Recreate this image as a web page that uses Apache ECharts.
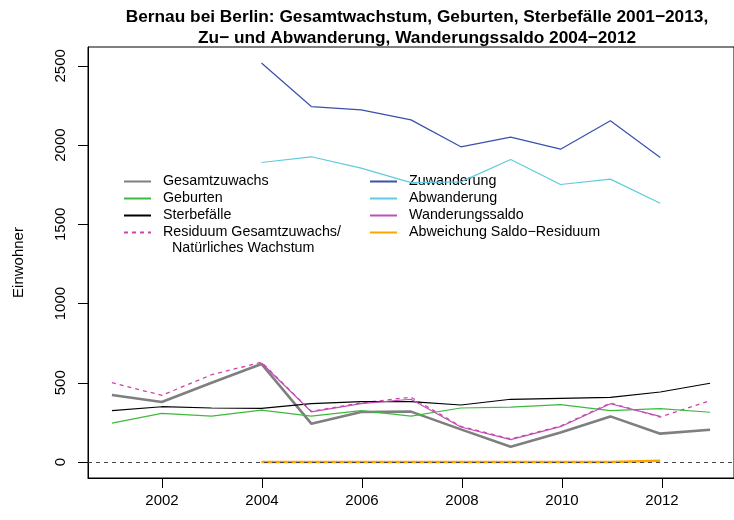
<!DOCTYPE html>
<html>
<head>
<meta charset="utf-8">
<script src="https://cdn.jsdelivr.net/npm/echarts@6/dist/echarts.min.js"></script>
<style>
html,body{margin:0;padding:0;background:#fff;}
#chart{width:734px;height:520px;}
</style>
</head>
<body>
<div id="chart"></div>
<script>
// ---- data ----
var years = [2001,2002,2003,2004,2005,2006,2007,2008,2009,2010,2011,2012,2013];
var gesamtzuwachs = [423,379,500,619,242,316,318,206,97,187,288,179,204];
var geburten      = [246,307,290,328,290,324,290,341,347,362,324,337,314];
var sterbefaelle  = [324,349,341,339,368,381,381,360,396,402,408,442,497];
var residuum      = [501,421,551,630,320,373,409,225,146,227,372,284,387];

var migYears = [2004,2005,2006,2007,2008,2009,2010,2011,2012];
var zuwanderung     = [2518,2243,2222,2159,1989,2050,1974,2153,1921];
var abwanderung     = [1890,1926,1854,1763,1768,1909,1751,1785,1633];
var wanderungssaldo = [625,317,368,396,221,141,223,368,288];
var abweichung      = [0,0,0,0,0,0,0,0,8];

var xTicks = [2002,2004,2006,2008,2010,2012];
var yTicks = [0,500,1000,1500,2000,2500];

var titleText = 'Bernau bei Berlin: Gesamtwachstum, Geburten, Sterbefälle 2001\u22122013,\nZu\u2212 und Abwanderung, Wanderungssaldo 2004\u22122012';

// ---- helpers ----
function pairs(xs, ys){ return xs.map(function(x,i){ return [x, ys[i]]; }); }
var xSpan = years[years.length-1] - years[0];
var xMin = years[0] - 0.04 * xSpan;
var xMax = years[years.length-1] + 0.04 * xSpan;
var yDataMax = Math.max.apply(null, zuwanderung);
var yMin = 0 - 0.04 * yDataMax;
var yMax = yDataMax + 0.04 * yDataMax;

// plot region in pixels
var G = { left: 88, top: 47, width: 648, height: 431 };
var pxPerYear = G.width / (xMax - xMin);
var tickLeft = G.left + (xTicks[0] - xMin) * pxPerYear;
var tickWidth = (xTicks[xTicks.length-1] - xTicks[0]) * pxPerYear;

var FONT = '"Liberation Sans", Arial, Helvetica, sans-serif';

function lineSeries(name, xs, ys, color, width, type, z){
  return {
    name: name, type: 'line', data: pairs(xs, ys),
    symbol: 'none', showSymbol: false, silent: true, animation: false,
    z: z || 2,
    lineStyle: { color: color, width: width, type: type || 'solid' },
    itemStyle: { color: color }
  };
}

var cGray = '#7f7f7f', cGreen = '#3dba3d', cBlack = '#000000', cResid = '#cc44aa',
    cBlue = '#3a50ad', cCyan = '#5fcbdc', cSaldo = '#c04fb4', cOrange = '#ffa500';

var series = [
  lineSeries('Abweichung Saldo\u2212Residuum', migYears, abweichung, cOrange, 2.5, 'solid', 2),
  lineSeries('Residuum Gesamtzuwachs/', years, residuum, cResid, 1.3, [4,4], 3),
  lineSeries('Gesamtzuwachs', years, gesamtzuwachs, cGray, 2.6, 'solid', 4),
  lineSeries('Geburten', years, geburten, cGreen, 1.2, 'solid', 4),
  lineSeries('Sterbefälle', years, sterbefaelle, cBlack, 1.2, 'solid', 4),
  lineSeries('Zuwanderung', migYears, zuwanderung, cBlue, 1.2, 'solid', 4),
  lineSeries('Abwanderung', migYears, abwanderung, cCyan, 1.2, 'solid', 4),
  lineSeries('Wanderungssaldo', migYears, wanderungssaldo, cSaldo, 1.2, 'solid', 5)
];
// dashed zero reference line (abline h = 0)
series.push({
  name: 'zero', type: 'line', data: [], silent: true, animation: false, z: 6,
  markLine: {
    silent: true, symbol: 'none', animation: false,
    label: { show: false },
    lineStyle: { color: '#444', width: 1.2, type: [4,4] },
    data: [{ yAxis: 0 }]
  }
});

var legendCommon = {
  orient: 'vertical', itemWidth: 27, itemHeight: 10, itemGap: 0,
  padding: 0,
  selectedMode: false,
  itemStyle: { opacity: 0, borderWidth: 0 },
  textStyle: { fontFamily: FONT, fontSize: 14.3, color: '#000', lineHeight: 17, padding: [0,0,0,7] }
};

var option = {
  backgroundColor: '#ffffff',
  animation: false,
  title: {
    text: titleText, left: 412, top: 2, textAlign: 'center',
    textStyle: { fontFamily: FONT, fontSize: 17.3, fontWeight: 'bold', color: '#000', lineHeight: 20.5 }
  },
  grid: [
    { left: G.left, top: G.top, width: G.width, height: G.height,
      show: true, borderColor: '#000', borderWidth: 1, backgroundColor: 'transparent' },
    // grid spanning exactly the x tick range, used only to draw the year ticks/labels
    { left: tickLeft, top: G.top, width: tickWidth, height: G.height, show: false }
  ],
  legend: [
    Object.assign({}, legendCommon, {
      left: 123, top: 173,
      data: ['Gesamtzuwachs','Geburten','Sterbefälle','Residuum Gesamtzuwachs/']
    }),
    Object.assign({}, legendCommon, {
      left: 369, top: 173,
      data: ['Zuwanderung','Abwanderung','Wanderungssaldo','Abweichung Saldo\u2212Residuum']
    })
  ],
  graphic: [{
    type: 'text', left: 172, top: 241, silent: true,
    style: { text: 'Natürliches Wachstum', font: '14.3px ' + FONT, fill: '#000' }
  }],
  xAxis: [
    {
      gridIndex: 0, type: 'value', min: xMin, max: xMax,
      axisLine: { show: true, onZero: false, lineStyle: { color: '#000', width: 1 } },
      splitLine: { show: false }, axisTick: { show: false }, axisLabel: { show: false }
    },
    {
      gridIndex: 1, type: 'value', min: xTicks[0], max: xTicks[xTicks.length-1], interval: 2,
      axisLine: { show: false, onZero: false },
      splitLine: { show: false },
      axisTick: { show: true, length: 10, lineStyle: { color: '#000', width: 1 } },
      axisLabel: { show: true, margin: 15, color: '#000', showMinLabel: true, showMaxLabel: true,
        fontFamily: FONT, fontSize: 15, formatter: function(v){ return String(v); } }
    }
  ],
  yAxis: [
    {
      gridIndex: 0, type: 'value', min: yMin, max: yMax,
      name: 'Einwohner', nameLocation: 'middle', nameGap: 62, nameRotate: 90,
      nameTextStyle: { fontFamily: FONT, fontSize: 15, color: '#000' },
      axisLine: { show: true, onZero: false, lineStyle: { color: '#000', width: 1 } },
      splitLine: { show: false },
      axisTick: { show: true, inside: false, customValues: yTicks, length: 10, lineStyle: { color: '#000', width: 1 } },
      axisLabel: { show: true, customValues: yTicks, margin: 20, rotate: 90, color: '#000',
        fontFamily: FONT, fontSize: 15, formatter: function(v){ return String(v); } }
    },
    {
      gridIndex: 1, type: 'value', min: 0, max: 1, show: false
    }
  ],
  series: series
};

var chart = echarts.init(document.getElementById('chart'), null, { renderer: 'canvas' });
chart.setOption(option);
</script>
</body>
</html>
